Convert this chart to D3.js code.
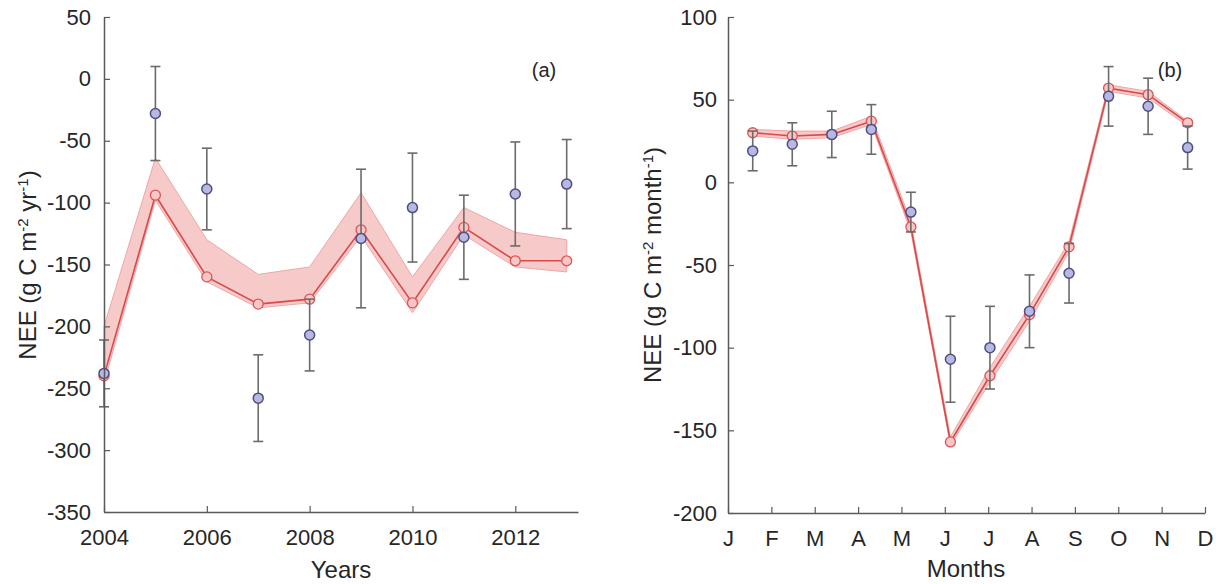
<!DOCTYPE html>
<html>
<head>
<meta charset="utf-8">
<script src="https://cdn.jsdelivr.net/npm/d3@7"></script>
<style>
  body { margin: 0; background: #fff; }
  text { font-family: "Liberation Sans", Arial, sans-serif; fill: #262626; }
</style>
</head>
<body>
<svg id="chart" width="1216" height="584"></svg>
<script>
// panel (a): annual NEE
const years = [2004, 2005, 2006, 2007, 2008, 2009, 2010, 2011, 2012, 2013];
const obsAnnual = [-238, -28, -89, -258, -207, -129, -104, -128, -93, -85];
const obsAnnualErr = [27, 38, 33, 35, 29, 56, 44, 34, 42, 36];
const modAnnual = [-240, -94, -160, -182, -178, -122, -181, -120, -147, -147];
const modAnnualUp = [-200, -64, -130, -158, -152, -92, -160, -104, -124, -130];
const modAnnualLo = [-246, -98, -164, -185, -181, -127, -189, -126, -152, -156];
const yearTicks = [2004, 2006, 2008, 2010, 2012];

// panel (b): monthly NEE
const months = ["J", "F", "M", "A", "M", "J", "J", "A", "S", "O", "N", "D"];
const obsMonthly = [19, 23, 29, 32, -18, -107, -100, -78, -55, 52, 46, 21];
const obsMonthlyErr = [12, 13, 14, 15, 12, 26, 25, 22, 18, 18, 17, 13];
const modMonthly = [30, 28, 29, 37, -27, -157, -117, -80, -39, 57, 53, 36];
const modMonthlyUp = [32, 31, 31, 40, -24, -154, -112, -75, -36, 59, 55, 37];
const modMonthlyLo = [28, 26, 27, 35, -30, -159, -121, -84, -42, 55, 51, 34];

const svg = d3.select("#chart");
const axisColor = "#5a5a5a";
const plain = d => String(d); // hyphen minus, as in the original figure

function styleAxis(g) {
  g.select(".domain").attr("stroke", axisColor).attr("stroke-width", 1.5);
  g.selectAll(".tick line").attr("stroke", axisColor).attr("stroke-width", 1.2);
  g.selectAll(".tick text").style("font-size", "22px").attr("fill", "#262626");
}

function yLabel(x, y, unit) {
  const t = svg.append("text")
    .attr("transform", `translate(${x},${y}) rotate(-90)`)
    .attr("text-anchor", "middle")
    .style("font-size", "24px");
  t.append("tspan").text("NEE (g C m");
  t.append("tspan").attr("baseline-shift", "super").style("font-size", "15px").text("-2");
  t.append("tspan").text(" " + unit);
  t.append("tspan").attr("baseline-shift", "super").style("font-size", "15px").text("-1");
  t.append("tspan").text(")");
}

function drawSeries(g, xs, obs, err, mod, up, lo, x, y) {
  const rows = xs.map((d, i) => ({ x: d, obs: obs[i], err: err[i], mod: mod[i], up: up[i], lo: lo[i] }));

  const area = d3.area().x(d => x(d.x)).y0(d => y(d.lo)).y1(d => y(d.up));
  g.append("path").datum(rows)
    .attr("d", area)
    .attr("fill", "#f6c1c1")
    .attr("fill-opacity", 0.85)
    .attr("stroke", "#f0a5a5")
    .attr("stroke-width", 1);

  const line = d3.line().x(d => x(d.x)).y(d => y(d.mod));
  g.append("path").datum(rows)
    .attr("d", line)
    .attr("fill", "none")
    .attr("stroke", "#d9494a")
    .attr("stroke-width", 1.6);

  g.selectAll(".mod").data(rows).enter().append("circle")
    .attr("class", "mod")
    .attr("cx", d => x(d.x))
    .attr("cy", d => y(d.mod))
    .attr("r", 5)
    .attr("fill", "#f7c6c6")
    .attr("stroke", "#dc5555")
    .attr("stroke-width", 1.3);

  const bars = g.selectAll(".err").data(rows).enter().append("g").attr("class", "err")
    .attr("stroke", "#6b6b6b").attr("stroke-width", 1.6);
  bars.append("line")
    .attr("x1", d => x(d.x)).attr("x2", d => x(d.x))
    .attr("y1", d => y(d.obs + d.err)).attr("y2", d => y(d.obs - d.err));
  bars.append("line")
    .attr("x1", d => x(d.x) - 5).attr("x2", d => x(d.x) + 5)
    .attr("y1", d => y(d.obs + d.err)).attr("y2", d => y(d.obs + d.err));
  bars.append("line")
    .attr("x1", d => x(d.x) - 5).attr("x2", d => x(d.x) + 5)
    .attr("y1", d => y(d.obs - d.err)).attr("y2", d => y(d.obs - d.err));

  g.selectAll(".obs").data(rows).enter().append("circle")
    .attr("class", "obs")
    .attr("cx", d => x(d.x))
    .attr("cy", d => y(d.obs))
    .attr("r", 5)
    .attr("fill", "#b8b8e0")
    .attr("stroke", "#4e4e86")
    .attr("stroke-width", 1.5);
}

// ---------- panel (a)
const xA = d3.scaleLinear().domain([2004, 2013.22]).range([104, 578]);
const yA = d3.scaleLinear().domain([-350, 50]).range([512, 17]);
const gA = svg.append("g");

drawSeries(gA, years, obsAnnual, obsAnnualErr, modAnnual, modAnnualUp, modAnnualLo, xA, yA);

gA.append("g")
  .attr("transform", "translate(0,512)")
  .call(d3.axisBottom(xA).tickValues(yearTicks).tickFormat(plain)
    .tickSizeInner(-6).tickSizeOuter(0).tickPadding(17))
  .call(styleAxis);
gA.append("g")
  .attr("transform", "translate(104,0)")
  .call(d3.axisLeft(yA).tickValues(d3.range(-350, 51, 50)).tickFormat(plain)
    .tickSizeInner(-6).tickSizeOuter(0).tickPadding(13))
  .call(styleAxis);

svg.append("text").attr("x", 341).attr("y", 578).attr("text-anchor", "middle")
  .style("font-size", "24px").text("Years");
yLabel(36, 265, "yr");
svg.append("text").attr("x", 544).attr("y", 77).attr("text-anchor", "middle")
  .style("font-size", "20px").text("(a)");

// ---------- panel (b)
const xB = d3.scaleLinear().domain([0, 11]).range([728, 1205]);
// points sit at mid-month positions, slightly compressed relative to the ticks
const monthPos = d3.scaleLinear().domain([0, 11]).range([0.57, 10.6]);
const yB = d3.scaleLinear().domain([-200, 100]).range([513, 17]);
const gB = svg.append("g");

drawSeries(gB, months.map((_, i) => monthPos(i)), obsMonthly, obsMonthlyErr,
  modMonthly, modMonthlyUp, modMonthlyLo, xB, yB);

gB.append("g")
  .attr("transform", "translate(0,513)")
  .call(d3.axisBottom(xB).tickValues(d3.range(12)).tickFormat(i => months[i])
    .tickSizeInner(-6).tickSizeOuter(0).tickPadding(17))
  .call(styleAxis);
gB.append("g")
  .attr("transform", "translate(728,0)")
  .call(d3.axisLeft(yB).tickValues(d3.range(-200, 101, 50)).tickFormat(plain)
    .tickSizeInner(-6).tickSizeOuter(0).tickPadding(11))
  .call(styleAxis);

svg.append("text").attr("x", 966).attr("y", 577).attr("text-anchor", "middle")
  .style("font-size", "24px").text("Months");
yLabel(661, 265, "month");
svg.append("text").attr("x", 1170).attr("y", 77).attr("text-anchor", "middle")
  .style("font-size", "20px").text("(b)");
</script>
</body>
</html>
